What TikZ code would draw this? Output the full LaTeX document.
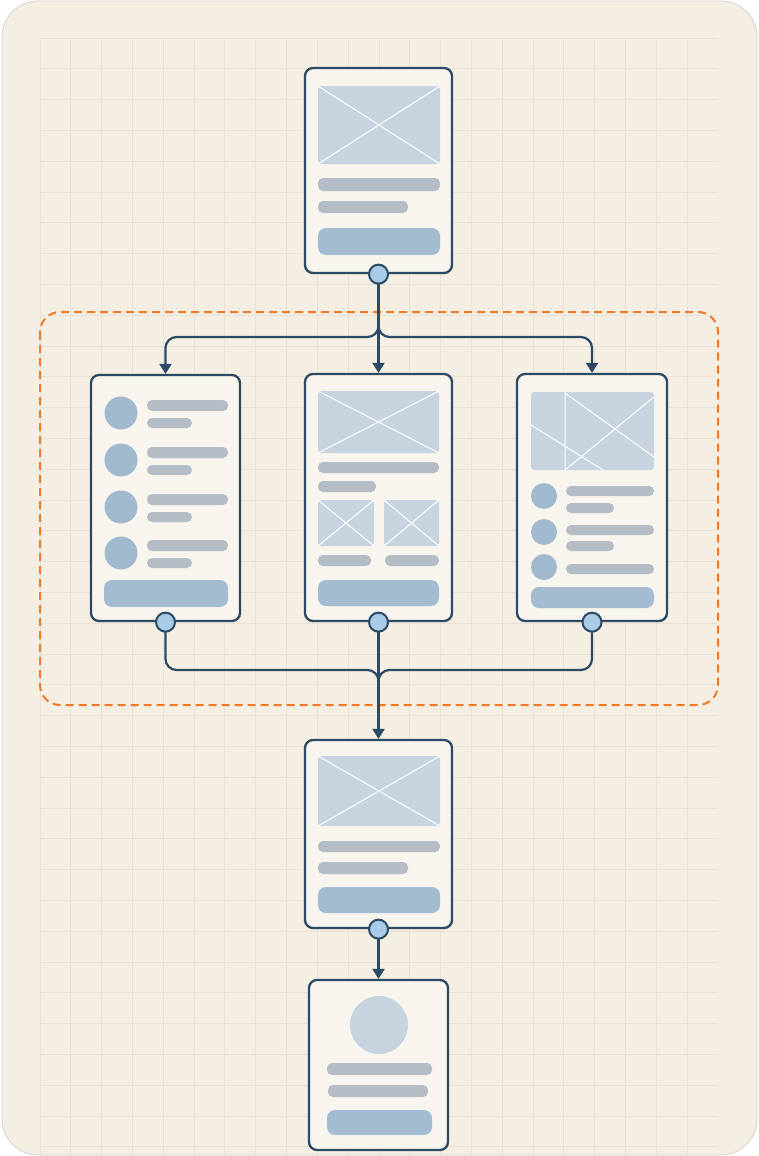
\documentclass[tikz,border=0pt]{standalone}
\usetikzlibrary{arrows.meta}

\definecolor{paper}{HTML}{F5EFE3}
\definecolor{gridline}{HTML}{E8E2D6}
\definecolor{navy}{HTML}{2C4A63}
\definecolor{card}{HTML}{F8F5EE}
\definecolor{imgfill}{HTML}{C7D4DF}
\definecolor{barfill}{HTML}{B4BDC6}
\definecolor{btnfill}{HTML}{A4BCD1}
\definecolor{avatar}{HTML}{A1B9CE}
\definecolor{portfill}{HTML}{A9CBE8}
\definecolor{groupline}{HTML}{F07A2A}

% image placeholder with a cross
\newcommand{\imgbox}[4]{%
  \fill[img] (#1,#2) rectangle (#3,#4);
  \draw[cross] (#1,#2) -- (#3,#4) (#1,#4) -- (#3,#2);}

\begin{document}
\begin{tikzpicture}[x=1pt,y=-1pt,
    screen/.style 2 args={draw=navy, line width=2.3pt, fill=card, rounded corners=8pt,
        minimum width=#1, minimum height=#2, inner sep=0pt},
    port/.style={circle, draw=navy, line width=2pt, fill=portfill, minimum size=19pt, inner sep=0pt},
    link/.style={draw=navy, line width=2.2pt, rounded corners=11pt},
    tip/.style={-{Triangle[width=12pt,length=10pt]}},
    img/.style={fill=imgfill, rounded corners=3pt},
    cross/.style={white, line width=1pt},
    bar/.style={fill=barfill, rounded corners=5pt},
    btn/.style={fill=btnfill, rounded corners=8pt},
    face/.style={fill=avatar}]

    % paper and grid
    \fill[white] (0,0) rectangle (759,1156);
    \draw[fill=paper, draw=gray!35, line width=0.8pt, rounded corners=36pt] (2,1) rectangle (757,1155);
    \begin{scope}
        \clip (40,38) rectangle (718,1154);
        \foreach \i in {0,...,22}
            \draw[gridline, line width=0.9pt] (40+30.82*\i,38) -- (40+30.82*\i,1156);
        \foreach \j in {0,...,37}
            \draw[gridline, line width=0.9pt] (40,38+30.8*\j) -- (718,38+30.8*\j);
    \end{scope}

    % the group of three screens
    \draw[groupline, line width=2pt, dash pattern=on 8pt off 5pt, rounded corners=20pt]
        (40,312) rectangle (718,705);

    % screens
    \node[screen={147pt}{205pt}] (home) at (378.5,170.5) {};
    \node[screen={149pt}{246pt}] (list) at (165.5,498) {};
    \node[screen={147pt}{247pt}] (gallery) at (378.5,497.5) {};
    \node[screen={150pt}{247pt}] (feed) at (592,497.5) {};
    \node[screen={147pt}{188pt}] (detail) at (378.5,834) {};
    \node[screen={139pt}{170pt}] (profile) at (378.5,1065) {};

    \coordinate (split) at (378.5,337);
    \coordinate (merge) at (378.5,670);
    \coordinate (mergeb) at (378.5,692);

    % home
    \imgbox{318}{86}{440}{164}
    \fill[bar] (318,178) rectangle (440,191);
    \fill[bar] (318,201) rectangle (408,213);
    \fill[btn] (318,228) rectangle (440,255);

    % list
    \foreach \y in {413,460,507,553} {
        \fill[face] (121,\y) circle (16.5pt);
        \fill[bar] (147,\y-13) rectangle (228,\y-2);
        \fill[bar] (147,\y+5) rectangle (192,\y+15);
    }
    \fill[btn] (104,580) rectangle (228,607);

    % gallery
    \imgbox{318}{391}{439}{453}
    \fill[bar] (318,462) rectangle (439,473);
    \fill[bar] (318,481) rectangle (376,492);
    \imgbox{318}{500}{374}{546}
    \imgbox{384}{500}{439}{546}
    \fill[bar] (318,555) rectangle (371,566);
    \fill[bar] (385,555) rectangle (439,566);
    \fill[btn] (318,580) rectangle (439,606);

    % feed
    \fill[img] (531,392) rectangle (654,470);
    \draw[cross] (565,392) -- (565,470) (565,393) -- (654,457) (654,397) -- (565,470)
        (531,425) -- (603,470);
    \foreach \y in {496,532,567}
        \fill[face] (544,\y) circle (13pt);
    \fill[bar] (566,486) rectangle (654,496);
    \fill[bar] (566,503) rectangle (614,513);
    \fill[bar] (566,525) rectangle (654,535);
    \fill[bar] (566,541) rectangle (614,551);
    \fill[bar] (566,564) rectangle (654,574);
    \fill[btn] (531,587) rectangle (654,608);

    % detail
    \imgbox{318}{756}{440}{826}
    \fill[bar] (318,841) rectangle (440,852);
    \fill[bar] (318,862) rectangle (408,874);
    \fill[btn] (318,887) rectangle (440,913);

    % profile
    \fill[imgfill] (379,1025) circle (29pt);
    \fill[bar] (327,1063) rectangle (432,1075);
    \fill[bar] (328,1085) rectangle (428,1097);
    \fill[btn] (327,1110) rectangle (432,1135);

    % connectors
    \draw[link, tip] (home.south) |- (list.north |- split) -- (list.north);
    \draw[link, tip] (home.south) |- (feed.north |- split) -- (feed.north);
    \draw[link, tip] (home.south) -- (gallery.north);
    \draw[link] (list.south) |- (merge) -- (mergeb);
    \draw[link] (feed.south) |- (merge) -- (mergeb);
    \draw[link, tip] (gallery.south) -- (detail.north);
    \draw[link, tip] (detail.south) -- (profile.north);

    % ports
    \node[port] (homeport) at (home.south) {};
    \node[port] (listport) at (list.south) {};
    \node[port] (galleryport) at (gallery.south) {};
    \node[port] (feedport) at (feed.south) {};
    \node[port] (detailport) at (detail.south) {};
\end{tikzpicture}
\end{document}
